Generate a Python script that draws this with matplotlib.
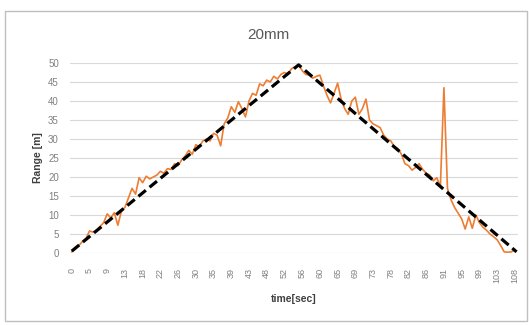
import matplotlib
matplotlib.use("Agg")
import matplotlib.pyplot as plt
from matplotlib.patches import Rectangle

# ---- data ----
tick_labels = ["0", "5", "9", "13", "18", "22", "26", "30", "35", "39", "43", "48", "52",
               "56", "60", "65", "69", "73", "78", "82", "86", "91", "95", "99", "103", "108"]
tick_every = 5  # one label every 5 samples

measured = [0.3, 1.2, 2.0, 3.0, 3.8, 5.8, 5.5, 6.0, 7.0, 8.0,
            10.3, 9.2, 10.6, 7.3, 11.0, 12.0, 14.5, 17.0, 15.5, 19.8,
            18.5, 20.2, 19.5, 20.0, 20.5, 21.5, 21.0, 22.2, 22.0, 23.5,
            23.0, 24.5, 25.5, 27.0, 26.0, 28.5, 28.0, 29.5, 30.0, 29.5,
            31.5, 31.0, 28.2, 34.0, 35.5, 38.5, 37.0, 39.8, 38.0, 35.8,
            40.0, 42.0, 41.5, 44.5, 44.0, 45.5, 45.0, 46.5, 45.8, 47.0,
            47.5, 47.0, 48.5, 49.0, 49.5, 48.0, 47.0, 46.8, 46.0, 46.5,
            46.8, 44.0, 41.5, 39.5, 42.0, 44.7, 40.5, 38.0, 36.5, 40.0,
            41.0, 36.5, 38.0, 40.5, 35.0, 34.0, 33.5, 33.0, 31.0, 30.0,
            29.5, 28.0, 27.5, 26.0, 23.5, 23.0, 21.8, 22.5, 23.5, 22.0,
            21.0, 20.5, 19.0, 19.8, 17.5, 43.5, 17.0, 14.0, 12.0, 10.5,
            9.0, 6.3, 9.5, 6.5, 10.0, 8.0, 6.8, 6.0, 5.0, 4.3,
            3.5, 2.0, 0.3, 0.2, 0.3, 0.8]

# ideal (dashed) path vertices: sample index, range
ideal_x = [0, 64, 125.5]
ideal_y = [0.5, 49.5, 0.3]

# ---- figure ----
W, H = 529, 325
fig = plt.figure(figsize=(W / 100, H / 100), dpi=100)
plt.rcParams['font.family'] = ['Liberation Sans', 'DejaVu Sans']

# outer border
fig.patches.append(Rectangle((5 / W, 1 - 321 / H), (527 - 5) / W, (321 - 11) / H,
                             transform=fig.transFigure, fill=False,
                             edgecolor="#bfbfbf", linewidth=1.0))

left, right = 70 / W, 518 / W
bottom, top = 1 - 253 / H, 1 - 63 / H
ax = fig.add_axes([left, bottom, right - left, top - bottom])

x = list(range(len(measured)))
ax.plot(x, measured, color="#ED7D31", linewidth=1.2, zorder=3)
ax.plot(ideal_x, ideal_y, color="black", linewidth=2.3, linestyle=(0, (3.0, 1.5)),
        zorder=4, solid_capstyle="butt")

ax.set_ylim(0, 50)
ax.set_xlim(-0.5, 125.9)
ax.set_yticks(range(0, 51, 5))
ax.yaxis.grid(True, color="#d9d9d9", linewidth=0.8)
ax.set_axisbelow(True)
for s in ax.spines.values():
    s.set_visible(False)
ax.tick_params(axis="both", length=0, colors="#808080", labelsize=7)
ax.tick_params(axis="y", pad=8)
ax.set_xticks([i * tick_every for i in range(len(tick_labels))])
ax.set_xticklabels(tick_labels, rotation=90, fontsize=6.5)
ax.tick_params(axis="x", pad=11)

ax.set_ylabel("Range [m]", fontsize=7.5, fontweight="bold", color="#404040", labelpad=4)
ax.set_xlabel("time[sec]", fontsize=7.5, fontweight="bold", color="#404040", labelpad=8)

fig.text(268 / W, 1 - 35 / H, "20mm", ha="center", va="center", fontsize=11, color="#595959")

fig.savefig("out.png", dpi=100)
